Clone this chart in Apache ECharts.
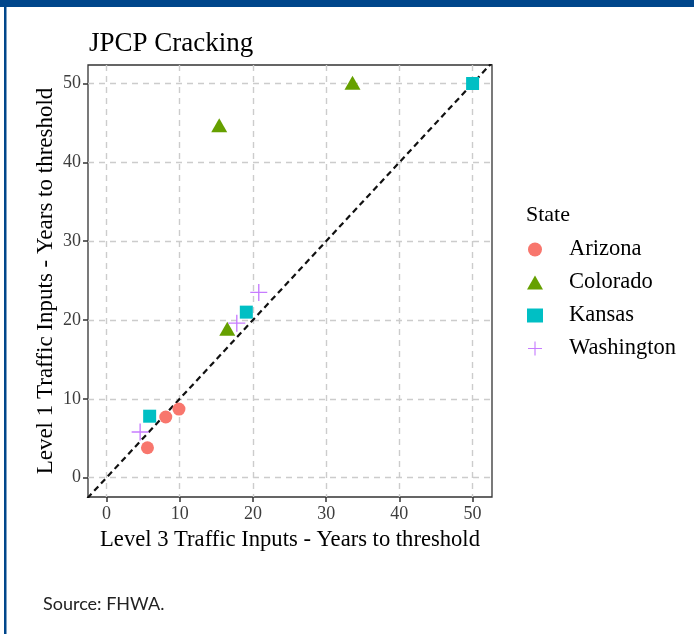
<!DOCTYPE html>
<html>
<head>
<meta charset="utf-8">
<script src="https://cdn.jsdelivr.net/npm/echarts@6/dist/echarts.min.js"></script>
<style>
  html, body { margin: 0; padding: 0; background: #ffffff; }
  #chart { width: 694px; height: 634px; }
</style>
</head>
<body>
<div id="chart"></div>
<script>
// Years to cracking threshold: Level 3 traffic inputs (x) vs Level 1 (y)
const states = ['Arizona', 'Colorado', 'Kansas', 'Washington'];
const arizona    = [[5.6, 3.8], [8.1, 7.7], [9.9, 8.7]];
const colorado   = [[16.5, 18.9], [15.4, 44.7], [33.6, 50.1]];
const kansas     = [[5.9, 7.8], [19.1, 21.0], [50.0, 50.0]];
const washington = [[4.6, 5.8], [17.8, 19.6], [20.8, 23.5]];
const tickValues = [0, 10, 20, 30, 40, 50];
const equalityLine = [[-2.6, -2.6], [52.7, 52.7]];

const serif = '"Liberation Serif", "DejaVu Serif", serif';
const plusPath = 'path://M4.6,0H5.4V4.6H10V5.4H5.4V10H4.6V5.4H0V4.6H4.6Z';

const chart = echarts.init(document.getElementById('chart'), null, { renderer: 'canvas' });

const gridStyle = { color: '#cccccc', width: 1.4, type: [6, 5] };

chart.setOption({
  backgroundColor: '#ffffff',
  animation: false,
  title: [
    { text: 'JPCP Cracking', left: 84, top: 25,
      textStyle: { fontFamily: serif, fontWeight: 'normal', fontSize: 27, color: '#000' } },
    { text: 'State', left: 521, top: 199,
      textStyle: { fontFamily: serif, fontWeight: 'normal', fontSize: 22, color: '#000' } },
    { text: 'Source: FHWA.', left: 38, top: 590,
      textStyle: { fontFamily: 'Lato, "Open Sans", sans-serif', fontWeight: 'normal', fontSize: 18, color: '#222' } }
  ],
  graphic: [
    { type: 'rect', left: 0, top: 0, shape: { width: 694, height: 7 }, style: { fill: '#00468b' } },
    { type: 'rect', left: 4, top: 0, shape: { width: 2.5, height: 634 }, style: { fill: '#00468b' } }
  ],
  legend: {
    orient: 'vertical',
    left: 522,
    top: 233,
    itemWidth: 16,
    itemHeight: 14,
    itemGap: 10,
    data: states,
    textStyle: { fontFamily: serif, fontSize: 22.5, color: '#000', padding: [0, 0, 0, 21] }
  },
  grid: {
    left: 88, right: 202, top: 65, bottom: 137,
    show: true, borderColor: '#333', borderWidth: 1.3, backgroundColor: '#fff'
  },
  xAxis: {
    type: 'value', min: -2.52, max: 52.65,
    name: 'Level 3 Traffic Inputs - Years to threshold',
    nameLocation: 'middle', nameGap: 32, nameMoveOverlap: false,
    nameTextStyle: { fontFamily: serif, fontSize: 22.6, color: '#000' },
    axisLine: { show: false, onZero: false },
    axisTick: { show: true, length: 5, lineStyle: { color: '#333', width: 1.5 }, customValues: tickValues },
    axisLabel: { fontFamily: serif, fontSize: 18, color: '#3d3d3d', margin: 8, customValues: tickValues },
    splitLine: { show: true, lineStyle: gridStyle }
  },
  yAxis: {
    type: 'value', min: -2.45, max: 52.35,
    name: 'Level 1 Traffic Inputs - Years to threshold',
    nameLocation: 'middle', nameGap: 31, nameMoveOverlap: false,
    nameTextStyle: { fontFamily: serif, fontSize: 23, color: '#000' },
    axisLine: { show: false, onZero: false },
    axisTick: { show: true, length: 5, lineStyle: { color: '#333', width: 1.5 }, customValues: tickValues },
    axisLabel: { fontFamily: serif, fontSize: 18, color: '#3d3d3d', margin: 7, customValues: tickValues },
    splitLine: { show: true, lineStyle: gridStyle }
  },
  series: [
    {
      name: 'equality', type: 'line', data: equalityLine, symbol: 'none',
      lineStyle: { color: '#111', width: 2.2, type: [6, 4] }, silent: true, z: 1
    },
    { name: 'Arizona', type: 'scatter', data: arizona, symbol: 'circle', symbolSize: 13,
      itemStyle: { color: '#F8766D', opacity: 1 }, z: 3 },
    { name: 'Colorado', type: 'scatter', data: colorado, symbol: 'triangle', symbolSize: [16, 14],
      itemStyle: { color: '#66a000', opacity: 1 }, z: 3 },
    { name: 'Kansas', type: 'scatter', data: kansas, symbol: 'rect', symbolSize: 13,
      itemStyle: { color: '#00BFC4', opacity: 1 }, z: 3 },
    { name: 'Washington', type: 'scatter', data: washington, symbol: plusPath, symbolSize: 17,
      itemStyle: { color: '#C77CFF', opacity: 1 }, z: 3 }
  ]
});
</script>
</body>
</html>
